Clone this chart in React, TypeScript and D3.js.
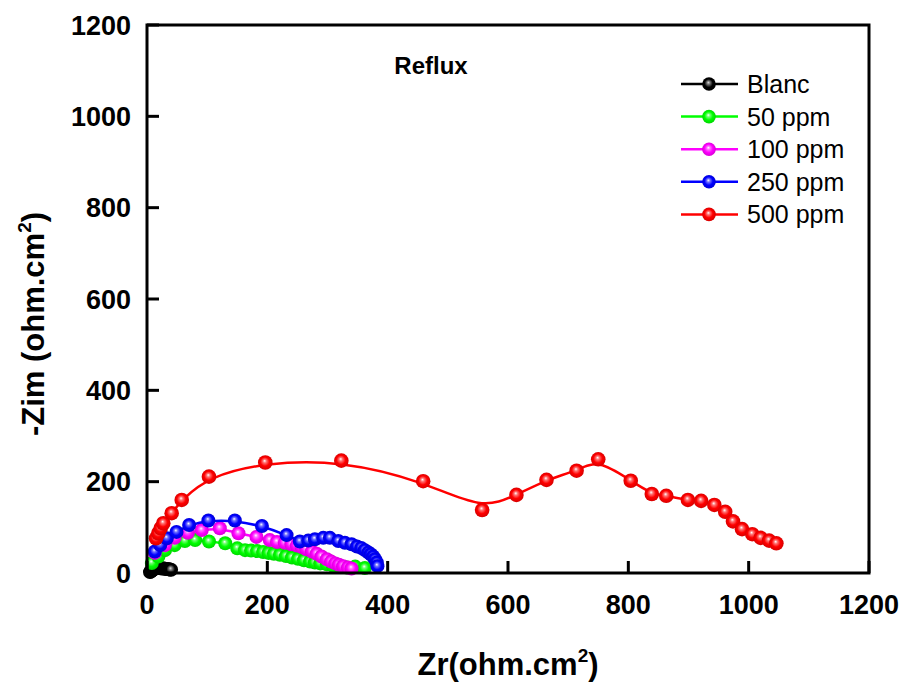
import React, { useEffect, useRef } from "react";
import * as d3 from "d3";

// Nyquist data, Zr (x) and -Zim (y) in ohm.cm²
const blancZr = [5, 6, 7, 8, 9, 10, 11, 12, 13, 14, 15, 16, 17, 18, 19, 20, 21, 22, 24, 26, 28, 30, 32, 34, 36, 38, 40];
const blancZim = [2, 3, 4.5, 5.5, 6.5, 7.5, 8.5, 9, 9.5, 10, 10.5, 11, 11, 11, 11, 11, 11, 10.5, 10.5, 10, 10, 9.5, 9, 8.5, 8, 7.5, 7];

const ppm50Zr = [8, 19, 30, 46, 63, 80, 103, 130, 150, 163, 173, 183, 193, 202, 211, 221, 231, 241, 251, 261, 271, 279, 288, 299, 309, 321, 332, 346, 362];
const ppm50Zim = [22, 36, 50, 61, 70, 72, 69, 65, 54, 50, 49, 48, 46, 44, 42, 40, 37, 34, 31, 28, 25, 23, 21, 19, 16, 14, 12, 14, 11];

const ppm100Zr = [13, 30, 46, 68, 91, 121, 152, 182, 204, 216, 229, 240, 249, 257, 265, 274, 282, 290, 299, 306, 313, 319, 326, 334, 340];
const ppm100Zim = [44, 61, 77, 88, 94, 98, 87, 79, 72, 68, 66, 63, 60, 57, 52, 47, 42, 36, 30, 25, 21, 18, 15, 12, 10];

const ppm250Zr = [13, 22, 33, 49, 70, 102, 146, 191, 232, 254, 268, 279, 293, 304, 318, 329, 340, 349, 356, 362, 368, 372, 376, 379, 382, 383];
const ppm250Zim = [47, 61, 76, 90, 105, 115, 115, 103, 83, 69, 71, 74, 77, 77, 70, 66, 63, 58, 55, 50, 45, 41, 36, 30, 23, 15];

const ppm500Zr = [15, 18.8, 22.8, 27.1, 41, 57.7, 103, 196.6, 323, 459, 557, 614, 664, 714, 750, 804, 839, 863, 899, 921, 943, 961, 974, 989, 1006, 1020, 1034, 1046];
const ppm500Zim = [76, 87, 98, 109, 131, 160, 211, 242, 246, 201, 138, 171, 204, 224, 249, 202, 173, 169, 160, 158, 149, 134, 113, 96, 85, 77, 71, 65];

const seriesNames = ["Blanc", "50 ppm", "100 ppm", "250 ppm", "500 ppm"];
const seriesColors = ["#000000", "#00ff00", "#ff00ff", "#0000ff", "#ff0000"];
const seriesZr = [blancZr, ppm50Zr, ppm100Zr, ppm250Zr, ppm500Zr];
const seriesZim = [blancZim, ppm50Zim, ppm100Zim, ppm250Zim, ppm500Zim];

const xTicks = [0, 200, 400, 600, 800, 1000, 1200];
const yTicks = [0, 200, 400, 600, 800, 1000, 1200];

const W = 906;
const H = 686;
const plot = { left: 147, right: 869, top: 25, bottom: 573 };
const FONT = "Arial, 'Liberation Sans', Helvetica, sans-serif";

export default function App() {
  const ref = useRef<SVGSVGElement>(null);

  useEffect(() => {
    const svg = d3.select(ref.current);
    svg.selectAll("*").remove();

    const x = d3.scaleLinear().domain([0, 1200]).range([plot.left, plot.right]);
    const y = d3.scaleLinear().domain([0, 1200]).range([plot.bottom, plot.top]);

    // sphere-like marker gradients
    const defs = svg.append("defs");
    seriesColors.forEach((c, i) => {
      const base = d3.color(c)!;
      const g = defs
        .append("radialGradient")
        .attr("id", `ball${i}`)
        .attr("cx", "50%")
        .attr("cy", "50%")
        .attr("r", "55%")
        .attr("fx", "45%")
        .attr("fy", "38%");
      const light = i === 0 ? "#dddddd" : "#ffffff";
      g.append("stop").attr("offset", "0%").attr("stop-color", light);
      g.append("stop").attr("offset", "22%").attr("stop-color", i === 0 ? "#777" : d3.interpolateRgb(c, "#fff")(0.45));
      g.append("stop").attr("offset", "55%").attr("stop-color", c);
      g.append("stop").attr("offset", "100%").attr("stop-color", base.darker(0.6).toString());
    });

    const dataG = svg.append("g");

    seriesZr.forEach((xs, i) => {
      const pts = xs.map((v, k) => [v, seriesZim[i][k]] as [number, number]);
      const line = d3
        .line<[number, number]>()
        .x((d) => x(d[0]))
        .y((d) => y(d[1]))
        .curve(i === 0 ? d3.curveLinear : d3.curveBasis);
      dataG
        .append("path")
        .attr("d", line(pts))
        .attr("fill", "none")
        .attr("stroke", seriesColors[i])
        .attr("stroke-width", 2.5);
      dataG
        .selectAll(null)
        .data(pts)
        .enter()
        .append("circle")
        .attr("cx", (d) => x(d[0]))
        .attr("cy", (d) => y(d[1]))
        .attr("r", i === 4 ? 7.3 : 7)
        .attr("fill", `url(#ball${i})`);
    });

    // frame
    svg
      .append("rect")
      .attr("x", plot.left)
      .attr("y", plot.top)
      .attr("width", plot.right - plot.left)
      .attr("height", plot.bottom - plot.top)
      .attr("fill", "none")
      .attr("stroke", "#000")
      .attr("stroke-width", 3);

    // ticks (inward)
    const tickLen = 12;
    svg
      .append("g")
      .selectAll("line")
      .data(xTicks)
      .enter()
      .append("line")
      .attr("x1", (d) => x(d))
      .attr("x2", (d) => x(d))
      .attr("y1", plot.bottom)
      .attr("y2", plot.bottom - tickLen)
      .attr("stroke", "#000")
      .attr("stroke-width", 3);
    svg
      .append("g")
      .selectAll("line")
      .data(yTicks)
      .enter()
      .append("line")
      .attr("x1", plot.left)
      .attr("x2", plot.left + tickLen)
      .attr("y1", (d) => y(d))
      .attr("y2", (d) => y(d))
      .attr("stroke", "#000")
      .attr("stroke-width", 3);

    // tick labels
    svg
      .append("g")
      .selectAll("text")
      .data(xTicks)
      .enter()
      .append("text")
      .attr("x", (d) => x(d))
      .attr("y", 614)
      .attr("text-anchor", "middle")
      .attr("font-family", FONT)
      .attr("font-weight", "bold")
      .attr("font-size", 27)
      .text((d) => d);
    svg
      .append("g")
      .selectAll("text")
      .data(yTicks)
      .enter()
      .append("text")
      .attr("x", 131)
      .attr("y", (d) => y(d) + 9.5)
      .attr("text-anchor", "end")
      .attr("font-family", FONT)
      .attr("font-weight", "bold")
      .attr("font-size", 27)
      .text((d) => d);

    // axis titles
    const xt = svg
      .append("text")
      .attr("x", 508)
      .attr("y", 675)
      .attr("text-anchor", "middle")
      .attr("font-family", FONT)
      .attr("font-weight", "bold")
      .attr("font-size", 31);
    xt.append("tspan").text("Zr(ohm.cm");
    xt.append("tspan").attr("font-size", 19).attr("dy", -13).text("2");
    xt.append("tspan").attr("dy", 13).text(")");

    const yt = svg
      .append("text")
      .attr("transform", `translate(44,${324}) rotate(-90)`)
      .attr("text-anchor", "middle")
      .attr("font-family", FONT)
      .attr("font-weight", "bold")
      .attr("font-size", 31);
    yt.append("tspan").text("-Zim (ohm.cm");
    yt.append("tspan").attr("font-size", 19).attr("dy", -13).text("2");
    yt.append("tspan").attr("dy", 13).text(")");

    // plot title
    svg
      .append("text")
      .attr("x", 431)
      .attr("y", 74)
      .attr("text-anchor", "middle")
      .attr("font-family", FONT)
      .attr("font-weight", "bold")
      .attr("font-size", 24)
      .text("Reflux");

    // legend
    const leg = svg.append("g");
    seriesNames.forEach((name, i) => {
      const cy = 84 + i * 32.6;
      leg
        .append("line")
        .attr("x1", 681)
        .attr("x2", 738)
        .attr("y1", cy)
        .attr("y2", cy)
        .attr("stroke", seriesColors[i])
        .attr("stroke-width", 2.5);
      leg
        .append("circle")
        .attr("cx", 709)
        .attr("cy", cy)
        .attr("r", 6.8)
        .attr("fill", `url(#ball${i})`);
      leg
        .append("text")
        .attr("x", 747)
        .attr("y", cy + 9)
        .attr("font-family", FONT)
        .attr("font-size", 25)
        .text(name);
    });
  }, []);

  return (
    <svg
      ref={ref}
      width={W}
      height={H}
      style={{ position: "absolute", left: 0, top: 0, background: "#fff" }}
    />
  );
}
